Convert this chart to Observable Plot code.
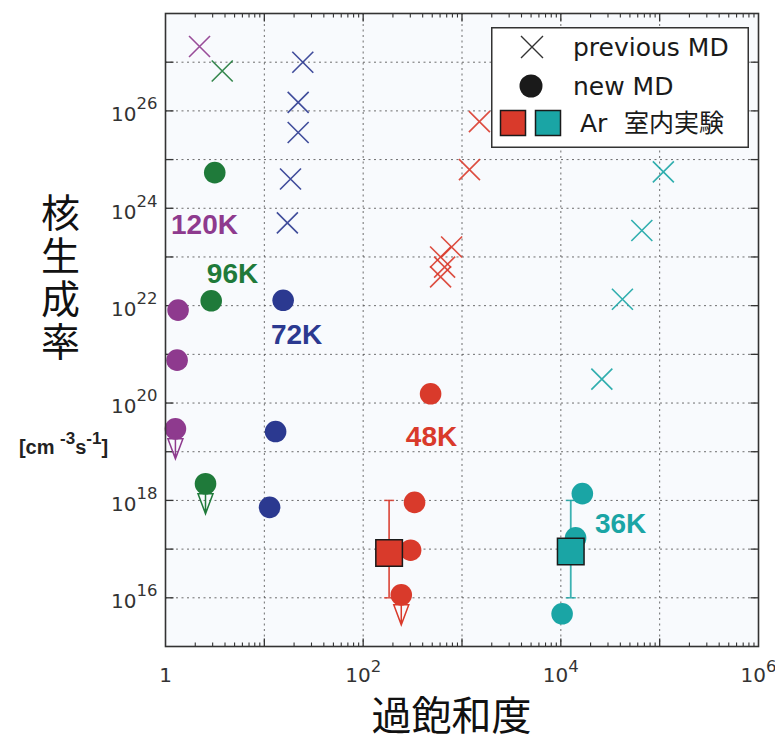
<!DOCTYPE html>
<html><head><meta charset="utf-8">
<script src="https://cdn.jsdelivr.net/npm/d3@7"></script>
<script src="https://cdn.jsdelivr.net/npm/@observablehq/plot@0.6"></script>
<style>
body{margin:0;background:#fff}
#wrap{position:relative;width:775px;height:742px}
#legend{position:absolute;left:491px;top:27px}
</style>
</head><body><div id="wrap"></div>
<script>
// ---- data ----
const temps = ["120K", "96K", "72K", "48K", "36K"];
const tempColors = ["#8e3a8e", "#1f7a3a", "#2b3990", "#d93a2b", "#1aa5a5"];

// previous MD (×)
const prevTemp = ["120K","96K","72K","72K","72K","72K","72K","48K","48K","48K","48K","48K","48K","36K","36K","36K","36K"];
const prevS = [2.21, 3.75, 24.5, 22.0, 22.0, 18.4, 17.1, 1500, 1190, 785, 607, 667, 607, 1.09e5, 6.6e4, 4.2e4, 2.6e4];
const prevJ = [2.1e27, 6.6e26, 1.0e27, 1.5e26, 3.6e25, 4.0e24, 5.0e23, 6.0e25, 6.2e24, 1.6e23, 1.0e23, 6.2e22, 3.9e22, 5.6e24, 3.5e23, 1.35e22, 3.1e20];

// new MD (●)
const newTemp = ["120K","120K","120K","96K","96K","96K","72K","72K","72K","48K","48K","48K","48K","36K","36K","36K"];
const newS = [1.34, 1.31, 1.26, 3.15, 2.90, 2.54, 15.5, 13.0, 11.3, 481, 331, 302, 243, 1.65e4, 1.41e4, 1.03e4];
const newJ = [8.1e21, 7.6e20, 2.95e19, 5.4e24, 1.26e22, 2.2e18, 1.29e22, 2.6e19, 7.2e17, 1.55e20, 9.1e17, 9.5e16, 1.15e16, 1.38e18, 1.7e17, 4.7e15];
const newUpper = [false,false,true,false,false,true,false,false,false,false,false,false,true,false,false,false];

// Ar laboratory experiment (■)
const expTemp = ["48K", "36K"];
const expS = [183, 1.26e4];
const expJ = [8.3e16, 8.9e16];
const expLo = [1e16, 1e16];
const expHi = [1e18, 1e18];

// temperature labels
const labelTemp = ["120K", "96K", "72K", "48K", "36K"];
const labelS = [2.48, 4.77, 21.2, 492, 4.03e4];
const labelJ = [4.6e23, 4.5e22, 2.5e21, 2.0e19, 3.3e17];

// axes
const xLabelTicks = [1, 1e2, 1e4, 1e6];
const yLabelTicks = [1e16, 1e18, 1e20, 1e22, 1e24, 1e26];
const xMajor = [1e1, 1e2, 1e3, 1e4, 1e5];
const yMajor = [1e16, 1e17, 1e18, 1e19, 1e20, 1e21, 1e22, 1e23, 1e24, 1e25, 1e26, 1e27];
const xMinor = [];
for (const dec of [1, 1e1, 1e2, 1e3, 1e4, 1e5]) for (const m of [2,3,4,5,6,7,8,9]) xMinor.push(dec * m);

const xTitle = "過飽和度";
const yTitle = "核生成率";
const yUnit = "[cm ^{-3}s^{-1}]";

// ---- rows ----
const prevRows = prevTemp.map((t, i) => ({t, s: prevS[i], j: prevJ[i]}));
const newRows = newTemp.map((t, i) => ({t, s: newS[i], j: newJ[i], up: newUpper[i]}));
const expRows = expTemp.map((t, i) => ({t, s: expS[i], j: expJ[i], lo: expLo[i], hi: expHi[i]}));
const capRows = expRows.flatMap(d => [{t: d.t, s: d.s, j: d.lo}, {t: d.t, s: d.s, j: d.hi}]);
const labelRows = labelTemp.map((t, i) => ({t, s: labelS[i], j: labelJ[i]}));

// ---- symbols ----
const crossSym = {draw(c) { const h = 10.5; c.moveTo(-h, -h); c.lineTo(h, h); c.moveTo(-h, h); c.lineTo(h, -h); }};
const arrowSym = {draw(c) { c.moveTo(0, 0); c.lineTo(0, 30); c.moveTo(-7.5, 10); c.lineTo(7.5, 10); c.lineTo(0, 30); c.closePath(); }};
const capSym = {draw(c) { c.moveTo(-5, 0); c.lineTo(5, 0); }};
const tickUp = (l) => ({draw(c) { c.moveTo(0, 0); c.lineTo(0, -l); }});
const tickDown = (l) => ({draw(c) { c.moveTo(0, 0); c.lineTo(0, l); }});
const tickRight = (l) => ({draw(c) { c.moveTo(0, 0); c.lineTo(l, 0); }});
const tickLeft = (l) => ({draw(c) { c.moveTo(0, 0); c.lineTo(-l, 0); }});

const fmtX = d => d === 1 ? "1" : `10^{${Math.round(Math.log10(d))}}`;
const fmtY = d => `10^{${Math.round(Math.log10(d))}}`;

const axisColor = "#333";
const chart = Plot.plot({
  width: 775,
  height: 742,
  marginLeft: 165,
  marginRight: 17,
  marginTop: 13,
  marginBottom: 96,
  style: {fontFamily: "DejaVu Sans", background: "#fff"},
  x: {type: "log", domain: [1, 1e6]},
  y: {type: "log", domain: [1e15, 1e28]},
  color: {domain: temps, range: tempColors},
  marks: [
    Plot.frame({fill: "#f8fafd", stroke: null}),
    Plot.gridX(xMajor, {stroke: "#555", strokeOpacity: 0.85, strokeDasharray: "2,3.5", strokeWidth: 1}),
    Plot.gridY(yMajor, {stroke: "#555", strokeOpacity: 0.85, strokeDasharray: "2,3.5", strokeWidth: 1}),
    // ticks inside the frame
    Plot.dot(xMajor, {x: d => d, frameAnchor: "bottom", symbol: tickUp(8), stroke: axisColor, fill: "none", strokeWidth: 1.3}),
    Plot.dot(xMinor, {x: d => d, frameAnchor: "bottom", symbol: tickUp(4), stroke: axisColor, fill: "none", strokeWidth: 1.1}),
    Plot.dot(xMajor, {x: d => d, frameAnchor: "top", symbol: tickDown(8), stroke: axisColor, fill: "none", strokeWidth: 1.3}),
    Plot.dot(xMinor, {x: d => d, frameAnchor: "top", symbol: tickDown(4), stroke: axisColor, fill: "none", strokeWidth: 1.1}),
    Plot.dot(yMajor, {y: d => d, frameAnchor: "left", symbol: tickRight(8), stroke: axisColor, fill: "none", strokeWidth: 1.3}),
    Plot.dot(yMajor, {y: d => d, frameAnchor: "right", symbol: tickLeft(8), stroke: axisColor, fill: "none", strokeWidth: 1.3}),
    // error bars of the experiment
    Plot.ruleX(expRows, {x: "s", y1: "lo", y2: "hi", stroke: "t", strokeWidth: 1.8, strokeOpacity: 0.85}),
    Plot.dot(capRows, {x: "s", y: "j", symbol: capSym, stroke: "t", fill: "none", strokeWidth: 1.5, strokeOpacity: 0.85}),
    // upper-limit arrows
    Plot.dot(newRows.filter(d => d.up), {x: "s", y: "j", symbol: arrowSym, stroke: "t", fill: "none", strokeWidth: 1.5}),
    // previous MD
    Plot.dot(prevRows, {x: "s", y: "j", symbol: crossSym, stroke: "t", fill: "none", strokeWidth: 1.6, strokeOpacity: 0.9}),
    // new MD
    Plot.dot(newRows, {x: "s", y: "j", r: 10.8, fill: "t", stroke: null}),
    // experiment squares
    Plot.dot(expRows, {x: "s", y: "j", symbol: "square", r: 15, fill: "t", stroke: "#1a1a1a", strokeWidth: 1.5}),
    // temperature labels
    Plot.text(labelRows, {x: "s", y: "j", text: "t", fill: "t", fontSize: 28, fontWeight: "bold", fontFamily: "Liberation Sans"}),
    Plot.frame({stroke: axisColor, strokeWidth: 1.6}),
    Plot.axisX({ticks: xLabelTicks, tickFormat: fmtX, tickSize: 0, tickPadding: 21, fontSize: 20, fill: "#333", label: null}),
    Plot.axisY({ticks: yLabelTicks, tickFormat: fmtY, tickSize: 0, tickPadding: 8, fontSize: 20, fill: "#333", label: null, dy: 4}),
    // axis titles
    Plot.text([xTitle], {frameAnchor: "bottom", textAnchor: "middle", lineAnchor: "middle", dx: -10.5, dy: 71, fontSize: 40, fontFamily: "Noto Sans CJK JP", fill: "#111"}),
    Plot.text([yTitle], {frameAnchor: "left", textAnchor: "middle", lineAnchor: "middle", dx: -105, dy: -64, fontSize: 39, fontFamily: "Noto Sans CJK JP", fill: "#111", ariaLabel: "y-title"}),
    Plot.text([yUnit], {frameAnchor: "left", textAnchor: "middle", lineAnchor: "middle", dx: -102, dy: 118, fontSize: 20, fontWeight: "bold", fontFamily: "Liberation Sans", fill: "#222"})
  ]
});

// superscript markup ^{...} -> tspans
function supify(t, supSize, raise) {
  const parts = t.textContent.split(/\^\{([^}]*)\}/);
  t.textContent = "";
  let raised = false;
  parts.forEach((p, i) => {
    if (!p) return;
    const ts = document.createElementNS("http://www.w3.org/2000/svg", "tspan");
    ts.textContent = p;
    if (i % 2 === 1) { ts.setAttribute("font-size", supSize); ts.setAttribute("dy", -raise); raised = true; }
    else if (raised) { ts.setAttribute("dy", raise); raised = false; }
    t.appendChild(ts);
  });
}
chart.querySelectorAll("text").forEach(t => {
  if (t.textContent === yTitle) {
    // stacked (vertical) Japanese axis title
    t.setAttribute("writing-mode", "vertical-rl");
    t.setAttribute("letter-spacing", "4");
    t.removeAttribute("dy");
    return;
  }
  if (!t.textContent.includes("^{")) return;
  const g = t.closest("g[aria-label]");
  const lab = g ? g.getAttribute("aria-label") : "";
  if (/y-axis/.test(lab)) supify(t, 16.5, 12);
  else if (/x-axis/.test(lab)) supify(t, 16.5, 10);
  else supify(t, 17, 10);
});

const wrap = document.getElementById("wrap");
wrap.appendChild(chart);

// legend overlay
const legend = document.createElement("div");
legend.id = "legend";
legend.innerHTML = `
<svg width="258" height="121" xmlns="http://www.w3.org/2000/svg" font-family="DejaVu Sans">
  <rect x="0.75" y="0.75" width="256.5" height="119.5" fill="#fff" stroke="#333" stroke-width="1.5"/>
  <path d="M30,9 L52,31 M30,31 L52,9" stroke="#333" stroke-width="1.4" fill="none"/>
  <text x="82" y="20" dy="0.35em" font-size="25" fill="#1a1a1a">previous MD</text>
  <circle cx="40" cy="59" r="11.5" fill="#1a1a1a"/>
  <text x="82" y="59" dy="0.35em" font-size="25" fill="#1a1a1a">new MD</text>
  <rect x="9.5" y="83.5" width="25" height="25" fill="${tempColors[3]}" stroke="#1a1a1a" stroke-width="1.5"/>
  <rect x="44.5" y="83.5" width="25" height="25" fill="${tempColors[4]}" stroke="#1a1a1a" stroke-width="1.5"/>
  <text x="89" y="96" dy="0.35em" font-size="25" fill="#1a1a1a">Ar</text>
  <text x="133" y="96" dy="0.35em" font-size="25" font-family="Noto Sans CJK JP" fill="#1a1a1a">室内実験</text>
</svg>`;
wrap.appendChild(legend);
</script></body></html>
